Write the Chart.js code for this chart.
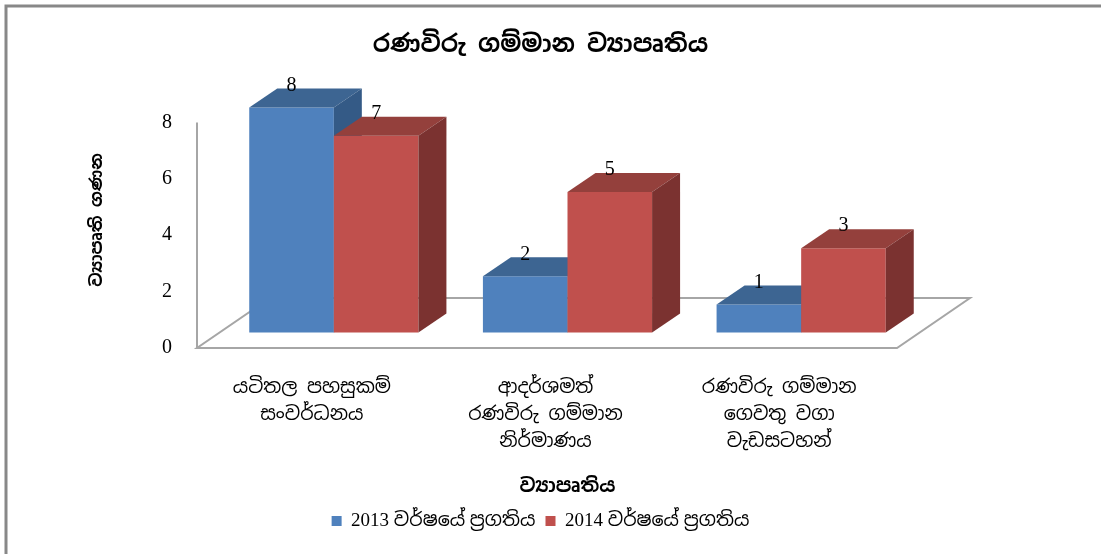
<!DOCTYPE html>
<html><head><meta charset="utf-8">
<script src="https://cdn.jsdelivr.net/npm/chart.js@4"></script>
<style>html,body{margin:0;padding:0;background:#fff;overflow:hidden}canvas{display:block}</style>
</head><body><canvas id="c" width="1101" height="554"></canvas>
<script>
const categories = [["යටිතල පහසුකම්","සංවර්ධනය"],["ආදර්ශමත්","රණවිරු ගම්මාන","නිර්මාණය"],["රණවිරු ගම්මාන","ගෙවතු වගා","වැඩසටහන්"]];
const series2013 = [8, 2, 1];
const series2014 = [7, 5, 3];
const seriesNames = ["2013 වර්ෂයේ ප්‍රගතිය", "2014 වර්ෂයේ ප්‍රගතිය"];
const yTickValues = [0, 2, 4, 6, 8];
const titleText = "රණවිරු ගම්මාන ව්‍යාපෘතිය";
const yTitleText = "ව්‍යාපෘති ගණන";
const xTitleText = "ව්‍යාපෘතිය";

const FONT = "'Noto Sans Sinhala','Iskoola Pota','Liberation Serif','DejaVu Serif',serif";
const SERIF = "'Liberation Serif','Noto Sans Sinhala',serif";
const faceColors = [
  {front:'#4F81BD', top:'#3D6592', side:'#345A86'},
  {front:'#C0504D', top:'#94403C', side:'#7B3230'}
];
const DEPTH = {dx: 28, dy: -19};
const FLOOR = {dx: 73, dy: -50};

const bar3d = {
  id: 'bar3d',
  beforeDraw(chart) {
    const ctx = chart.ctx;
    ctx.save();
    ctx.fillStyle = '#fff';
    ctx.fillRect(0, 0, chart.width, chart.height);
    ctx.strokeStyle = '#888';
    ctx.lineWidth = 3;
    ctx.beginPath();
    ctx.moveTo(6, chart.height);
    ctx.lineTo(6, 6);
    ctx.lineTo(chart.width, 6);
    ctx.stroke();
    ctx.restore();
  },
  beforeDatasetsDraw(chart) {
    const ctx = chart.ctx;
    const xs = chart.scales.x, ys = chart.scales.y;
    const y0 = ys.getPixelForValue(0);
    const fy = y0 + 15.5;
    const fl = xs.left - 20, fr = xs.right - 21;
    ctx.save();
    ctx.fillStyle = '#fff';
    ctx.strokeStyle = '#A6A6A6';
    ctx.lineWidth = 2;
    ctx.beginPath();
    ctx.moveTo(fl, fy);
    ctx.lineTo(fr, fy);
    ctx.lineTo(fr + FLOOR.dx, fy + FLOOR.dy);
    ctx.lineTo(fl + FLOOR.dx, fy + FLOOR.dy);
    ctx.closePath();
    ctx.fill();
    ctx.stroke();
    ctx.beginPath();
    ctx.moveTo(fl, ys.getPixelForValue(ys.max) + 15);
    ctx.lineTo(fl, fy);
    ctx.stroke();
    const metas = chart.data.datasets.map((d, i) => chart.getDatasetMeta(i));
    for (let g = 0; g < chart.data.labels.length; g++) {
      metas.forEach((meta, di) => {
        const bar = meta.data[g];
        const p = bar.getProps(['x', 'y', 'base', 'width'], true);
        const l = p.x - p.width / 2, r = p.x + p.width / 2;
        const c = faceColors[di];
        bar.draw(ctx, chart.chartArea);
        ctx.fillStyle = c.top;
        ctx.beginPath();
        ctx.moveTo(l, p.y); ctx.lineTo(r, p.y);
        ctx.lineTo(r + DEPTH.dx, p.y + DEPTH.dy); ctx.lineTo(l + DEPTH.dx, p.y + DEPTH.dy);
        ctx.closePath(); ctx.fill();
        ctx.fillStyle = c.side;
        ctx.beginPath();
        ctx.moveTo(r, p.y); ctx.lineTo(r + DEPTH.dx, p.y + DEPTH.dy);
        ctx.lineTo(r + DEPTH.dx, p.base + DEPTH.dy); ctx.lineTo(r, p.base);
        ctx.closePath(); ctx.fill();
      });
    }
    ctx.fillStyle = '#000';
    ctx.font = "20px 'Liberation Serif', serif";
    ctx.textAlign = 'center';
    ctx.textBaseline = 'middle';
    metas.forEach((meta, di) => {
      meta.data.forEach((bar, i) => {
        const p = bar.getProps(['x', 'y'], true);
        ctx.fillText(String(chart.data.datasets[di].data[i]), p.x, p.y - 22);
      });
    });
    ctx.restore();
    return false;
  }
};

new Chart(document.getElementById('c'), {
  type: 'bar',
  data: {
    labels: categories,
    datasets: [
      {label: seriesNames[0], data: series2013, backgroundColor: faceColors[0].front, borderWidth: 0},
      {label: seriesNames[1], data: series2014, backgroundColor: faceColors[1].front, borderWidth: 0}
    ]
  },
  options: {
    responsive: false,
    animation: false,
    devicePixelRatio: 1,
    categoryPercentage: 0.724,
    barPercentage: 1,
    layout: {padding: {top: 0, left: 0, right: 20, bottom: 13.5}},
    plugins: {
      title: {display: true, text: titleText, color: '#000', font: {family: FONT, size: 24, weight: 'bold'}, padding: {top: 31, bottom: 47.7}},
      legend: {position: 'bottom', labels: {boxWidth: 10, boxHeight: 10, color: '#000', font: {family: SERIF, size: 19}, padding: 10}},
      tooltip: {enabled: false}
    },
    scales: {
      x: {
        grid: {display: false}, border: {display: false},
        ticks: {color: '#000', font: {family: FONT, size: 19, lineHeight: 1.42}, padding: 34, labelOffset: -22, maxRotation: 0, autoSkip: false},
        title: {display: true, text: xTitleText, color: '#000', font: {family: FONT, size: 19, weight: 'bold'}, padding: {top: 0, bottom: 3}},
        afterFit(s) { s.height = 169; }
      },
      y: {
        min: 0, max: 8,
        grid: {display: false}, border: {display: false},
        afterBuildTicks(s) { s.ticks = yTickValues.map(v => ({value: v})); },
        ticks: {color: '#000', font: {family: SERIF, size: 20}, padding: 37, labelOffset: 15},
        title: {display: true, text: yTitleText, color: '#000', font: {family: FONT, size: 17, weight: 'bold'}, padding: {top: 87, bottom: 0}},
        afterFit(s) { s.width = 217; }
      },
      yRight: {
        position: 'right', display: true,
        grid: {display: false}, border: {display: false},
        ticks: {display: false},
        afterFit(s) { s.width = 163; }
      }
    }
  },
  plugins: [bar3d]
});
</script>
</body></html>
